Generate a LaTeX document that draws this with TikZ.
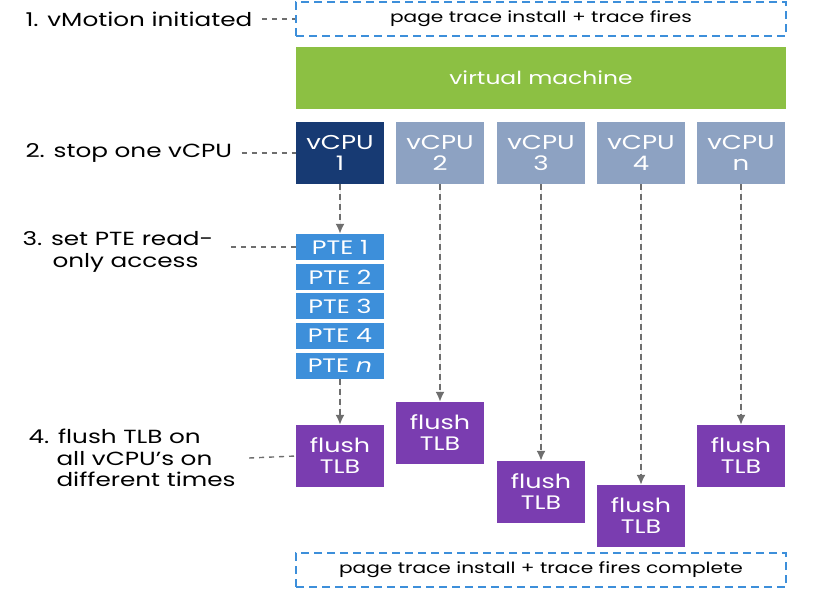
\documentclass[tikz,border=0pt]{standalone}
\usepackage{fontspec}
\setmainfont[FakeStretch=1.3]{Poppins}
\usetikzlibrary{arrows.meta}
\definecolor{vmgreen}{HTML}{8CC043}
\definecolor{vmnavy}{HTML}{173A73}
\definecolor{vmgrey}{HTML}{8DA2C2}
\definecolor{vmblue}{HTML}{3D8FDA}
\definecolor{vmpurple}{HTML}{7A3DB0}
\definecolor{linegrey}{HTML}{6E6E6E}
\begin{document}
\begin{tikzpicture}[x=1pt, y=-1pt, >={Latex[length=10pt,width=9pt]}]
    \useasboundingbox (0, 0) rectangle (819, 590);

    \tikzstyle{frame} = [draw = vmblue, line width = 2.4pt, dash pattern = on 8pt off 5pt,
        minimum width = 490pt, minimum height = 34pt, inner sep = 0pt, font = \fontsize{15.5}{17}\selectfont]
    \tikzstyle{cpu} = [text = white, inner sep = 0pt, minimum width = 88pt, minimum height = 62pt,
        align = center, font = \fontsize{20}{21}\selectfont]
    \tikzstyle{pte} = [fill = vmblue, text = white, inner sep = 0pt, minimum width = 88pt,
        minimum height = 26pt, font = \fontsize{19.5}{20}\selectfont]
    \tikzstyle{flush} = [cpu, fill = vmpurple, font = \fontsize{19.5}{21}\selectfont]
    \tikzstyle{stepnote} = [align = left, anchor = west, font = \fontsize{19}{21.5}\selectfont]
    \tikzstyle{hint} = [draw = linegrey, line width = 1.4pt, dash pattern = on 5pt off 5pt]
    \tikzstyle{flow} = [->, draw = linegrey, fill = linegrey, line width = 1.8pt, dash pattern = on 6pt off 4pt]

    % frame and virtual machine
    \node[frame] (start) at (541, 19) {page trace install + trace fires};
    \node[fill = vmgreen, text = white, minimum width = 490pt, minimum height = 62pt,
        font = \fontsize{18}{20}\selectfont] (vm) at (541, 78) {virtual machine};

    % vCPUs
    \node[cpu, fill = vmnavy] (c1) at (340, 153) {vCPU\\1};
    \node[cpu, fill = vmgrey] (c2) at (440, 153) {vCPU\\2};
    \node[cpu, fill = vmgrey] (c3) at (541, 153) {vCPU\\3};
    \node[cpu, fill = vmgrey] (c4) at (641, 153) {vCPU\\4};
    \node[cpu, fill = vmgrey] (c5) at (741, 153) {vCPU\\n};

    % page table entries
    \node[pte] (p1) at (340, 247) {PTE 1};
    \node[pte] (p2) at (340, 277) {PTE 2};
    \node[pte] (p3) at (340, 306) {PTE 3};
    \node[pte] (p4) at (340, 336) {PTE 4};
    \node[pte] (p5) at (340, 366) {PTE \textit{n}};

    % flushes
    \node[flush] (f1) at (340, 456) {flush\\TLB};
    \node[flush] (f2) at (440, 433) {flush\\TLB};
    \node[flush] (f3) at (541, 492) {flush\\TLB};
    \node[flush] (f4) at (641, 516) {flush\\TLB};
    \node[flush] (f5) at (741, 456) {flush\\TLB};

    \node[frame] (stop) at (541, 570) {page trace install + trace fires complete};

    % steps
    \node[stepnote] (s1) at (22, 19) {1. vMotion initiated};
    \node[stepnote] (s2) at (22, 153) {2. stop one vCPU};
    \node[stepnote] (s3) at (19, 252) {3. set PTE read-\\\hspace*{30pt}only access};
    \node[stepnote] (s4) at (25, 458) {4. flush TLB on\\\hspace*{28pt}all vCPU’s on\\\hspace*{28pt}different times};

    \draw[hint] (s1.east) ++(6, 0) -- (start.west);
    \draw[hint] (s2.east) ++(6, 0) -- (c1.west);
    \draw[hint] (s3.east |- p1) ++(14, 0) -- (p1.west);
    \draw[hint] (s4.east) ++(10, 0) -- (f1.west);

    \draw[flow] (c1) -- (p1);
    \draw[flow] (p5) -- (f1);
    \foreach \i in {2, ..., 5}
        \draw[flow] (c\i) -- (f\i);
\end{tikzpicture}
\end{document}
